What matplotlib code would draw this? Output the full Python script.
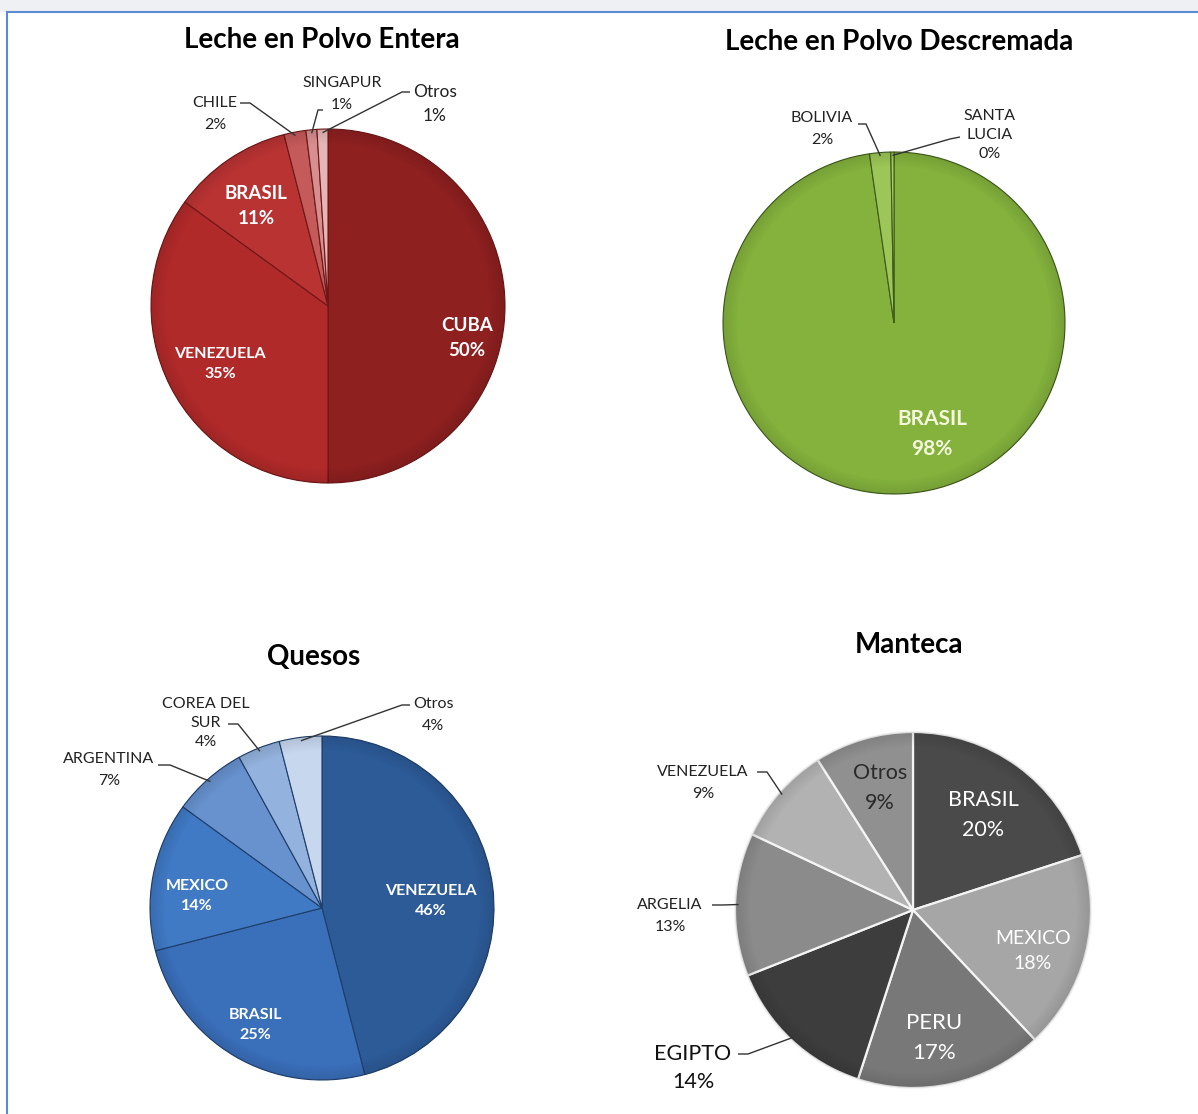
import matplotlib
matplotlib.use("Agg")
import matplotlib.pyplot as plt
from matplotlib.patches import Rectangle, Wedge
import numpy as np

plt.rcParams['font.family'] = ['Lato', 'DejaVu Sans']

W, H = 1198, 1114

# ---------------- data ----------------
title1 = "Leche en Polvo Entera"
cats1 = ["CUBA", "VENEZUELA", "BRASIL", "CHILE", "SINGAPUR", "Otros"]
vals1 = [50, 35, 11, 2, 1, 1]

title2 = "Leche en Polvo Descremada"
cats2 = ["BRASIL", "BOLIVIA", "SANTA\nLUCIA"]
vals2 = [98, 2, 0.3]

title3 = "Quesos"
cats3 = ["VENEZUELA", "BRASIL", "MEXICO", "ARGENTINA", "COREA DEL\nSUR", "Otros"]
vals3 = [46, 25, 14, 7, 4, 4]

title4 = "Manteca"
cats4 = ["BRASIL", "MEXICO", "PERU", "EGIPTO", "ARGELIA", "VENEZUELA", "Otros"]
vals4 = [20, 18, 17, 14, 13, 9, 9]

# ---------------- styles ----------------
colors1 = ["#8E2020", "#B12A2A", "#BA3333", "#C55A5A", "#D68E8E", "#E6B6B6"]
colors2 = ["#84B23D", "#9CC657", "#A6CC62"]
colors3 = ["#2D5B98", "#3A6FBA", "#4079C4", "#6792CE", "#93B2DD", "#C7D7EE"]
colors4 = ["#4A4A4A", "#A6A6A6", "#787878", "#3D3D3D", "#8B8B8B", "#B2B2B2", "#909090"]

fig = plt.figure(figsize=(W / 100, H / 100), dpi=100)
fig.patch.set_facecolor("white")
ax = fig.add_axes([0, 0, 1, 1])


def fy(y):
    return H - y


def pcts(vals):
    tot = sum(vals)
    return [int(round(v / tot * 100)) for v in vals]


def draw_pie(vals, colors, cx, cy, r, edge, lw):
    wedges, _ = ax.pie(vals, colors=colors, startangle=90, counterclock=False,
                       center=(cx, fy(cy)), radius=r, frame=True,
                       wedgeprops=dict(edgecolor=edge, linewidth=lw))
    # soft darkening towards the rim (bevel look)
    n = 10
    for i in range(n):
        r_out = r * (1 - 0.008 * i)
        ax.add_patch(Wedge((cx, fy(cy)), r_out, 0, 360, width=r * 0.008,
                           facecolor="black", edgecolor="none",
                           alpha=0.10 * (n - i) / n, zorder=3))
    return wedges


def rim(w, cx, cy, r, f=0.98):
    a = np.deg2rad((w.theta1 + w.theta2) / 2)
    return cx + f * r * np.cos(a), fy(cy) + f * r * np.sin(a)


def inside(txt, x, y, size, color="white", weight="bold"):
    ax.text(x, fy(y), txt, ha="center", va="center", fontsize=size,
            color=color, fontweight=weight, linespacing=1.6, zorder=5)


def outside(txt, x, y, size=11.5, color="#222222", ls=1.65):
    ax.text(x, fy(y), txt, ha="center", va="center", fontsize=size,
            color=color, linespacing=ls, zorder=5)


def leader(pts, end):
    xs = [p[0] for p in pts] + [end[0]]
    ys = [fy(p[1]) for p in pts] + [end[1]]
    ax.plot(xs, ys, color="#333333", lw=1.0, solid_capstyle="butt", zorder=5)


# background frame
ax.add_patch(Rectangle((0, fy(12)), W, 12, facecolor="#EEF0F3", edgecolor="none"))
ax.plot([7, 7], [0, fy(12)], color="#5B8BD0", lw=1.5)
ax.plot([7, W], [fy(12), fy(12)], color="#5B8BD0", lw=1.5)

# ---------- Pie 1 ----------
cx, cy, r = 328, 306, 177
w1 = draw_pie(vals1, colors1, cx, cy, r, "#6E1616", 0.8)
p1 = pcts(vals1)
ax.text(322, fy(40), title1, ha="center", va="center", fontsize=20, fontweight="bold", color="black")
inside(f"{cats1[0]}\n{p1[0]}%", 467, 338, 13.5)
inside(f"{cats1[1]}\n{p1[1]}%", 220, 364, 11.5)
inside(f"{cats1[2]}\n{p1[2]}%", 256, 206, 13.5)
outside(f"{cats1[3]}\n{p1[3]}%", 215, 114)
leader([(240, 103), (250, 103)], rim(w1[3], cx, cy, r))
outside(f"{cats1[4]}\n{p1[4]}%", 342, 94)
leader([(323, 110), (318, 110)], rim(w1[4], cx, cy, r))
outside(f"{cats1[5]}\n{p1[5]}%", 435, 104, size=12.5)
leader([(410, 92), (402, 92)], rim(w1[5], cx, cy, r))

# ---------- Pie 2 ----------
cx, cy, r = 894, 323, 171
w2 = draw_pie(vals2, colors2, cx, cy, r, "#3E5A1C", 0.8)
p2 = pcts(vals2)
ax.text(899, fy(42), title2, ha="center", va="center", fontsize=20, fontweight="bold", color="black")
inside(f"{cats2[0]}\n{p2[0]}%", 932, 434, 15, color="#F4F7DC")
outside(f"{cats2[1]}\n{p2[1]}%", 822, 129)
leader([(858, 124), (866, 124)], rim(w2[1], cx, cy, r))
outside(f"{cats2[2]}\n{p2[2]}%", 990, 135, ls=1.45)
leader([(960, 137), (950, 139)], rim(w2[2], cx, cy, r))

# ---------- Pie 3 ----------
cx, cy, r = 322, 908, 172
w3 = draw_pie(vals3, colors3, cx, cy, r, "#1E3E6A", 0.8)
p3 = pcts(vals3)
ax.text(314, fy(657), title3, ha="center", va="center", fontsize=20, fontweight="bold", color="black")
inside(f"{cats3[0]}\n{p3[0]}%", 431, 901, 11.5)
inside(f"{cats3[1]}\n{p3[1]}%", 255, 1025, 11.5)
inside(f"{cats3[2]}\n{p3[2]}%", 197, 896, 11.5)
outside(f"{cats3[3]}\n{p3[3]}%", 109, 770)
leader([(158, 765), (170, 765)], rim(w3[3], cx, cy, r))
outside(f"{cats3[4]}\n{p3[4]}%", 206, 723, ls=1.45)
leader([(228, 724), (238, 724)], rim(w3[4], cx, cy, r))
outside(f"{cats3[5]}\n{p3[5]}%", 433, 715)
leader([(410, 705), (402, 705)], rim(w3[5], cx, cy, r))

# ---------- Pie 4 ----------
cx, cy, r = 913, 910, 178
w4 = draw_pie(vals4, colors4, cx, cy, r, "#F4F4F4", 1.6)
p4 = pcts(vals4)
ax.text(909, fy(645), title4, ha="center", va="center", fontsize=20, fontweight="bold", color="black")
inside(f"{cats4[0]}\n{p4[0]}%", 983, 815, 15.5, weight="normal")
inside(f"{cats4[1]}\n{p4[1]}%", 1033, 951, 14, weight="normal")
inside(f"{cats4[2]}\n{p4[2]}%", 934, 1038, 16, weight="normal")
outside(f"{cats4[3]}\n{p4[3]}%", 693, 1068, size=15.5, color="#111111", ls=1.5)
leader([(738, 1054), (748, 1054)], rim(w4[3], cx, cy, r))
outside(f"{cats4[4]}\n{p4[4]}%", 670, 916)
leader([(712, 905), (722, 905)], rim(w4[4], cx, cy, r))
outside(f"{cats4[5]}\n{p4[5]}%", 703, 783)
leader([(757, 772), (767, 772)], rim(w4[5], cx, cy, r))
inside(f"{cats4[6]}\n{p4[6]}%", 880, 788, 15.5, color="#2A2A2A", weight="normal")

ax.set_xlim(0, W)
ax.set_ylim(0, H)
ax.set_aspect("equal")
ax.axis("off")

fig.savefig("out.png", dpi=100, facecolor="white")
